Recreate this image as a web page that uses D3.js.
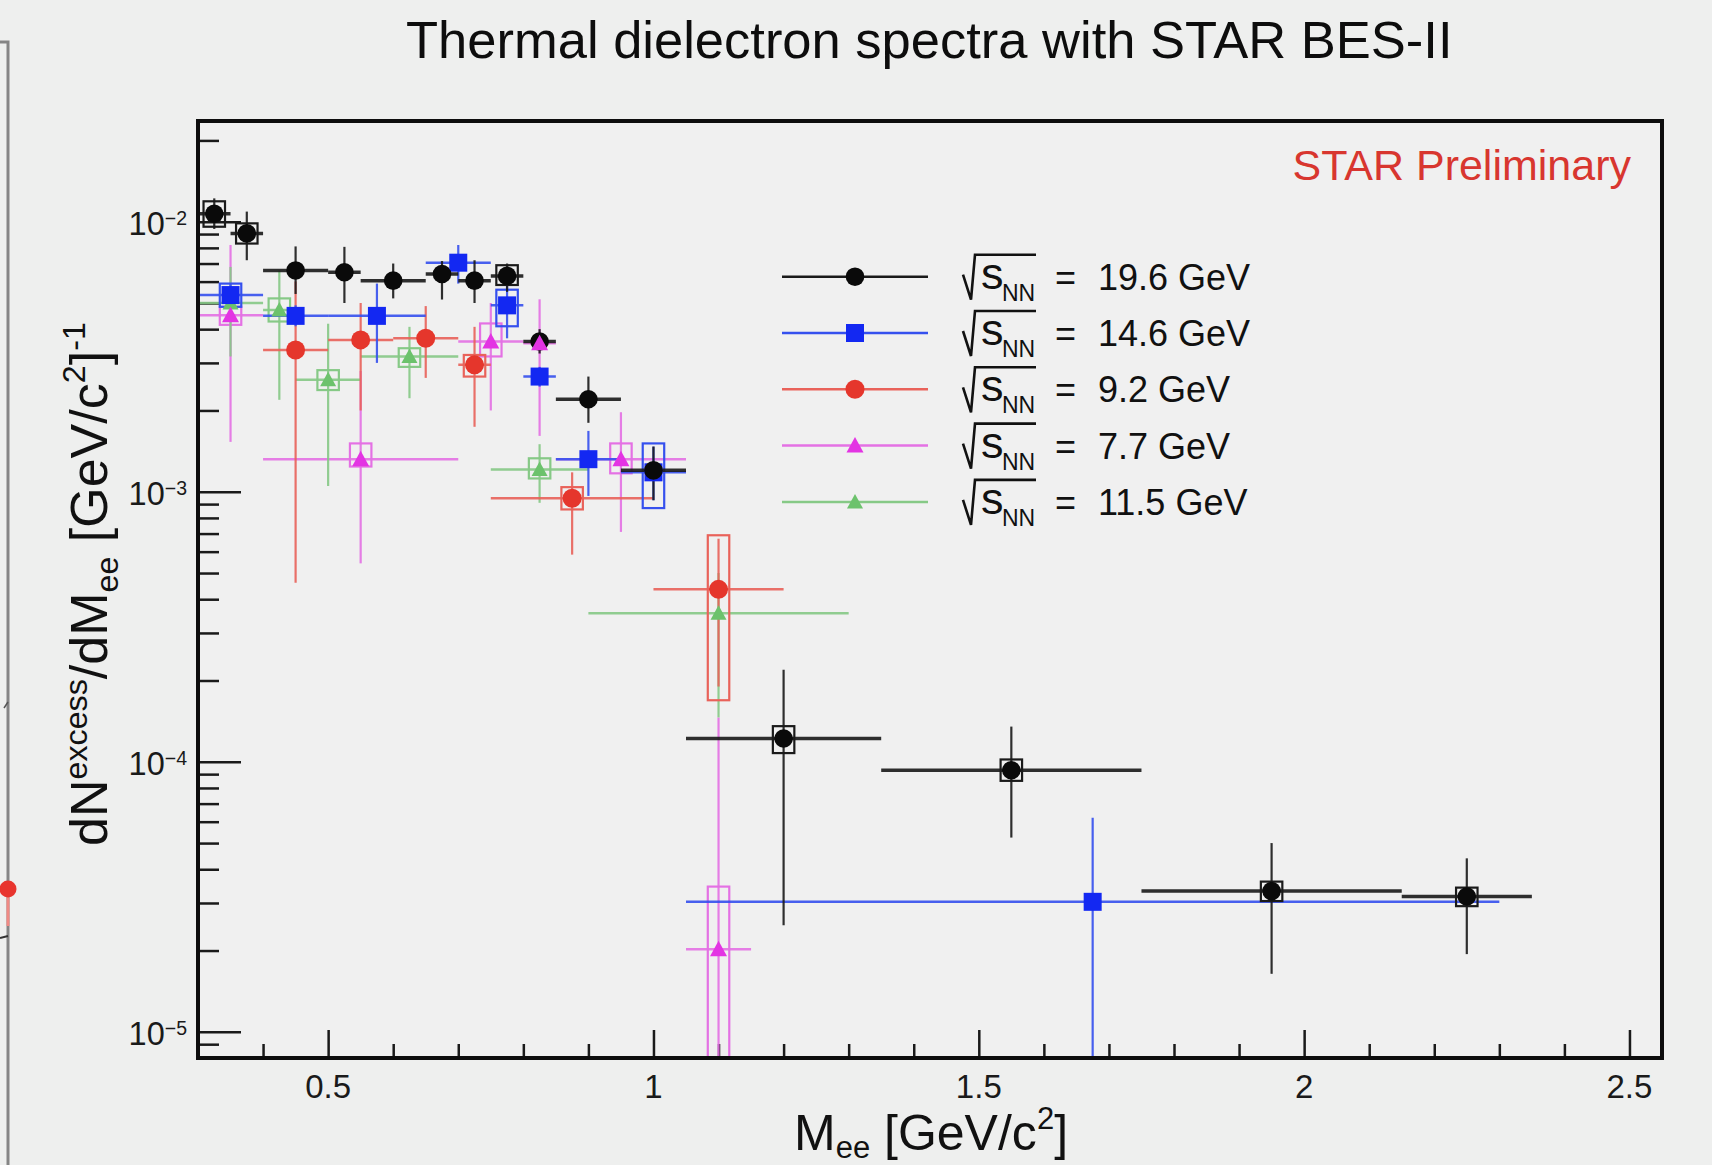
<!DOCTYPE html>
<html><head><meta charset="utf-8">
<script src="https://cdn.jsdelivr.net/npm/d3@7"></script>
<style>
html,body{margin:0;padding:0;background:#ededed;}
svg{display:block;font-family:"Liberation Sans",Arial,Helvetica,sans-serif;}
</style></head><body>
<svg id="chart" width="1712" height="1165"></svg>
<script>
// ---------------- DATA ----------------
const legendOrder = ["19.6", "14.6", "9.2", "7.7", "11.5"];
const xTickValues = [0.5, 1, 1.5, 2, 2.5];
const xTickLabels = ["0.5", "1", "1.5", "2", "2.5"];
const yTickValues = [1e-2, 1e-3, 1e-4, 1e-5];
const yTickExps = ["\u22122", "\u22123", "\u22124", "\u22125"];

// sqrt(sNN) = 19.6 GeV
const x196    = [0.325, 0.375, 0.45, 0.525, 0.6, 0.675, 0.725, 0.775, 0.825, 0.9, 1.0, 1.2, 1.55, 1.95, 2.25];
const xLo196  = [0.30, 0.35, 0.40, 0.50, 0.55, 0.65, 0.70, 0.75, 0.80, 0.85, 0.95, 1.05, 1.35, 1.75, 2.15];
const xHi196  = [0.35, 0.40, 0.50, 0.55, 0.65, 0.70, 0.75, 0.80, 0.85, 0.95, 1.05, 1.35, 1.75, 2.15, 2.35];
const y196    = [1.07e-2, 9.05e-3, 6.6e-3, 6.5e-3, 6.05e-3, 6.4e-3, 6.05e-3, 6.3e-3, 3.6e-3, 2.2e-3, 1.2e-3, 1.22e-4, 9.3e-5, 3.32e-5, 3.17e-5];
const yLo196  = [9.4e-3, 7.2e-3, 5.4e-3, 5.0e-3, 5.2e-3, 5.15e-3, 5.0e-3, 5.5e-3, 3.25e-3, 1.8e-3, 9.3e-4, 2.48e-5, 5.24e-5, 1.64e-5, 1.94e-5];
const yHi196  = [1.22e-2, 1.09e-2, 8.1e-3, 8.07e-3, 7.0e-3, 7.15e-3, 7.2e-3, 7.0e-3, 4.0e-3, 2.67e-3, 1.47e-3, 2.19e-4, 1.35e-4, 5.0e-5, 4.39e-5];
const sLo196  = [9.58e-3, 8.3e-3, null, null, null, null, null, 5.83e-3, null, null, null, 1.077e-4, 8.5e-5, 3.05e-5, 2.92e-5];
const sHi196  = [1.19e-2, 9.86e-3, null, null, null, null, null, 6.9e-3, null, null, null, 1.355e-4, 1.02e-4, 3.6e-5, 3.42e-5];

// sqrt(sNN) = 14.6 GeV
const x146    = [0.35, 0.45, 0.575, 0.7, 0.775, 0.825, 0.9, 1.0, 1.675];
const xLo146  = [0.30, 0.40, 0.50, 0.65, 0.75, 0.80, 0.85, 0.95, 1.05];
const xHi146  = [0.40, 0.50, 0.65, 0.75, 0.80, 0.85, 0.95, 1.05, 2.30];
const y146    = [5.35e-3, 4.48e-3, 4.48e-3, 7.05e-3, 4.9e-3, 2.67e-3, 1.32e-3, 1.18e-3, 3.03e-5];
const yLo146  = [4.9e-3, 4.1e-3, 3.0e-3, 5.9e-3, 3.7e-3, 2.45e-3, 9.65e-4, 9.3e-4, 1e-6];
const yHi146  = [5.9e-3, 4.9e-3, 5.9e-3, 8.2e-3, 6.2e-3, 2.9e-3, 1.68e-3, 1.47e-3, 6.2e-5];
const sLo146  = [4.84e-3, null, null, null, 4.1e-3, null, null, 8.7e-4, null];
const sHi146  = [5.9e-3, null, null, null, 5.6e-3, null, null, 1.51e-3, null];

// sqrt(sNN) = 9.2 GeV
const x92     = [0.45, 0.55, 0.65, 0.725, 0.875, 1.1];
const xLo92   = [0.40, 0.50, 0.60, 0.70, 0.75, 1.00];
const xHi92   = [0.50, 0.60, 0.70, 0.75, 1.00, 1.20];
const y92     = [3.35e-3, 3.65e-3, 3.7e-3, 2.95e-3, 9.46e-4, 4.35e-4];
const yLo92   = [4.6e-4, 2.0e-3, 2.64e-3, 1.74e-3, 5.85e-4, 1.9e-4];
const yHi92   = [6.0e-3, 5.0e-3, 4.87e-3, 4.08e-3, 1.18e-3, 6.7e-4];
const sLo92   = [null, null, null, 2.67e-3, 8.6e-4, 1.69e-4];
const sHi92   = [null, null, null, 3.21e-3, 1.04e-3, 6.9e-4];

// sqrt(sNN) = 7.7 GeV
const x77     = [0.35, 0.55, 0.75, 0.825, 0.95, 1.1];
const xLo77   = [0.30, 0.40, 0.70, 0.80, 0.85, 1.05];
const xHi77   = [0.40, 0.70, 0.80, 0.85, 1.05, 1.15];
const y77     = [4.5e-3, 1.32e-3, 3.6e-3, 3.55e-3, 1.32e-3, 2.02e-5];
const yLo77   = [1.53e-3, 5.43e-4, 2.0e-3, 1.61e-3, 7.1e-4, 1e-6];
const yHi77   = [8.2e-3, 2.8e-3, 5.0e-3, 5.16e-3, 1.97e-3, 1.46e-4];
const sLo77   = [4.15e-3, 1.24e-3, 3.17e-3, null, 1.17e-3, 1e-6];
const sHi77   = [4.84e-3, 1.51e-3, 4.2e-3, null, 1.51e-3, 3.45e-5];

// sqrt(sNN) = 11.5 GeV
const x115    = [0.35, 0.425, 0.5, 0.625, 0.825, 1.1];
const xLo115  = [0.30, 0.40, 0.45, 0.55, 0.75, 0.90];
const xHi115  = [0.40, 0.45, 0.55, 0.70, 0.90, 1.30];
const y115    = [5.0e-3, 4.71e-3, 2.6e-3, 3.17e-3, 1.21e-3, 3.55e-4];
const yLo115  = [3.17e-3, 2.19e-3, 1.05e-3, 2.22e-3, 9.1e-4, 1.46e-4];
const yHi115  = [6.8e-3, 6.6e-3, 4.19e-3, 4.08e-3, 1.5e-3, 5.0e-4];
const sLo115  = [null, 4.27e-3, 2.38e-3, 2.9e-3, 1.12e-3, null];
const sHi115  = [null, 5.2e-3, 2.82e-3, 3.4e-3, 1.33e-3, null];

// ---------------- STYLE / SERIES ----------------
const series = {
  "19.6": {x:x196, xlo:xLo196, xhi:xHi196, y:y196, ylo:yLo196, yhi:yHi196, slo:sLo196, shi:sHi196,
           color:"#0a0a0a", line:"#1a1a1a", marker:"circle", r:9.3, hw:3.5},
  "14.6": {x:x146, xlo:xLo146, xhi:xHi146, y:y146, ylo:yLo146, yhi:yHi146, slo:sLo146, shi:sHi146,
           color:"#1328f2", line:"#3550ee", marker:"square", r:9, hw:2.5},
  "9.2":  {x:x92, xlo:xLo92, xhi:xHi92, y:y92, ylo:yLo92, yhi:yHi92, slo:sLo92, shi:sHi92,
           color:"#e5362c", line:"#e9625a", marker:"circle", r:9.5, hw:2.5},
  "7.7":  {x:x77, xlo:xLo77, xhi:xHi77, y:y77, ylo:yLo77, yhi:yHi77, slo:sLo77, shi:sHi77,
           color:"#e334e3", line:"#e471e4", marker:"triangle", r:8.5, hw:2.5},
  "11.5": {x:x115, xlo:xLo115, xhi:xHi115, y:y115, ylo:yLo115, yhi:yHi115, slo:sLo115, shi:sHi115,
           color:"#6cc26c", line:"#86c986", marker:"triangle", r:8, hw:2.5}
};
const barOrder = ["7.7", "11.5", "9.2", "14.6", "19.6"];
const markerOrder = ["11.5", "9.2", "14.6", "19.6", "7.7"];

// ---------------- SETUP ----------------
const W = 1712, H = 1165;
const M = {left:198, right:1662, top:121, bottom:1058};
const svg = d3.select("#chart");
const x = d3.scaleLinear().domain([0.3, 2.55]).range([M.left, M.right]);
const y = d3.scaleLog().domain([8.0e-6, 0.0236]).range([M.bottom, M.top]);

svg.append("rect").attr("width", W).attr("height", H).attr("fill", "#eeefee");
svg.append("rect").attr("x", M.left).attr("y", M.top).attr("width", M.right - M.left)
   .attr("height", M.bottom - M.top).attr("fill", "#f0f0f0");

// left-edge remnant of neighbouring slide
const edge = svg.append("g");
edge.append("path").attr("d", "M0,42 L8,42 L8,1165").attr("fill", "none").attr("stroke", "#858585").attr("stroke-width", 3);
edge.append("line").attr("x1", 8).attr("x2", 8).attr("y1", 896).attr("y2", 926).attr("stroke", "#f08a84").attr("stroke-width", 3);
edge.append("circle").attr("cx", 8).attr("cy", 889).attr("r", 8.5).attr("fill", "#e8352e");
edge.append("line").attr("x1", 0).attr("x2", 8).attr("y1", 938).attr("y2", 936).attr("stroke", "#333").attr("stroke-width", 2);
edge.append("line").attr("x1", 4).attr("x2", 8).attr("y1", 708).attr("y2", 702).attr("stroke", "#555").attr("stroke-width", 1.5);

// rich text helper (superscripts / subscripts)
function rich(sel, segs, fs) {
  let cur = 0;
  segs.forEach(sg => {
    const target = sg.s === "sup" ? (sg.sh !== undefined ? sg.sh : -0.42 * fs) :
                   sg.s === "sub" ? (sg.sh !== undefined ? sg.sh : 0.24 * fs) : 0;
    sel.append("tspan").text(sg.t).attr("dy", target - cur)
       .style("font-size", (sg.s ? (sg.f || 0.62) * fs : fs) + "px");
    cur = target;
  });
}

// ---------------- TITLE ----------------
svg.append("text").attr("x", 406).attr("y", 58).style("font-size", "52.5px").attr("fill", "#0d0d0d")
   .text("Thermal dielectron spectra with STAR BES-II");

// ---------------- AXES ----------------
const yMinor = [];
for (let e = -6; e <= -2; e++) for (let k = 2; k <= 9; k++) {
  const v = k * Math.pow(10, e);
  if (v >= 8.0e-6 && v <= 0.0236) yMinor.push(v);
}
const xMinor = d3.range(3, 26).map(i => i / 10).filter(v => !xTickValues.some(t => Math.abs(t - v) < 1e-9));

const axG = svg.append("g").attr("stroke", "#111");
const yMinAx = d3.axisLeft(y).tickValues(yMinor).tickSize(-21).tickFormat("");
const yMajAx = d3.axisLeft(y).tickValues(yTickValues).tickSize(-43).tickFormat("");
const xMinAx = d3.axisBottom(x).tickValues(xMinor).tickSize(-14).tickFormat("");
const xMajAx = d3.axisBottom(x).tickValues(xTickValues).tickSize(-28).tickFormat("");
[[yMinAx, `translate(${M.left},0)`], [yMajAx, `translate(${M.left},0)`],
 [xMinAx, `translate(0,${M.bottom})`], [xMajAx, `translate(0,${M.bottom})`]].forEach(([ax, tr]) => {
  const g = axG.append("g").attr("transform", tr).call(ax);
  g.select(".domain").remove();
  g.selectAll(".tick line").attr("stroke", "#1a1a1a").attr("stroke-width", 2.5);
});

// y tick labels
yTickValues.forEach((v, i) => {
  const t = svg.append("text").attr("x", 187).attr("y", y(v) + 13).attr("text-anchor", "end")
     .attr("fill", "#1a1a1a");
  rich(t, [{t:"10"}, {t:yTickExps[i], s:"sup", f:0.6, sh:-10}], 32.5);
});
// x tick labels
xTickValues.forEach((v, i) => {
  svg.append("text").attr("x", x(v)).attr("y", 1098).attr("text-anchor", "middle")
     .style("font-size", "33px").attr("fill", "#1a1a1a").text(xTickLabels[i]);
});

// axis titles
const xt = svg.append("text").attr("x", 794).attr("y", 1150).attr("fill", "#111");
rich(xt, [{t:"M"}, {t:"ee", s:"sub", sh:8}, {t:" [GeV/c"}, {t:"2", s:"sup", sh:-21}, {t:"]"}], 50);

const yt = svg.append("text").attr("transform", "translate(107,846) rotate(-90)").attr("fill", "#111");
rich(yt, [{t:"dN"}, {t:"excess", s:"sup", sh:-20}, {t:"/dM"}, {t:"ee", s:"sub", sh:11},
          {t:" [GeV/c"}, {t:"2", s:"sup", sh:-22}, {t:"]"}, {t:"-1", s:"sup", sh:-22}], 52);

// ---------------- DATA MARKS ----------------
const plot = svg.append("g");
svg.append("clipPath").attr("id", "clip").append("rect")
   .attr("x", M.left).attr("y", M.top).attr("width", M.right - M.left).attr("height", M.bottom - M.top);
plot.attr("clip-path", "url(#clip)");

function markerPath(type, r) {
  if (type === "square") return `M${-r},${-r}H${r}V${r}H${-r}Z`;
  if (type === "triangle") return `M0,${-r}L${r},${r * 0.82}L${-r},${r * 0.82}Z`;
  return null;
}
function drawMarker(g, s, cx, cy) {
  if (s.marker === "circle") g.append("circle").attr("cx", cx).attr("cy", cy).attr("r", s.r).attr("fill", s.color);
  else g.append("path").attr("d", markerPath(s.marker, s.r)).attr("transform", `translate(${cx},${cy})`).attr("fill", s.color);
}

const BOX = 0.0165;
barOrder.forEach(key => {
  const s = series[key];
  const g = plot.append("g");
  s.x.forEach((xv, i) => {
    if (s.slo[i] !== null) {
      g.append("rect").attr("x", x(xv - BOX)).attr("width", x(xv + BOX) - x(xv - BOX))
       .attr("y", y(s.shi[i])).attr("height", y(s.slo[i]) - y(s.shi[i]))
       .attr("fill", "none").attr("stroke", s.line).attr("stroke-width", 2.2);
    }
    g.append("line").attr("x1", x(s.xlo[i])).attr("x2", x(s.xhi[i])).attr("y1", y(s.y[i])).attr("y2", y(s.y[i]))
     .attr("stroke", s.line).attr("stroke-width", s.hw).attr("opacity", 0.9);
    g.append("line").attr("x1", x(xv)).attr("x2", x(xv)).attr("y1", y(s.yhi[i])).attr("y2", y(s.ylo[i]))
     .attr("stroke", s.line).attr("stroke-width", 2.2).attr("opacity", 0.9);
  });
});
markerOrder.forEach(key => {
  const s = series[key];
  const g = plot.append("g");
  s.x.forEach((xv, i) => drawMarker(g, s, x(xv), y(s.y[i])));
});

// ---------------- FRAME ----------------
svg.append("rect").attr("x", M.left).attr("y", M.top).attr("width", M.right - M.left)
   .attr("height", M.bottom - M.top).attr("fill", "none").attr("stroke", "#0d0d0d").attr("stroke-width", 4);

// STAR Preliminary
svg.append("text").attr("x", 1631).attr("y", 180).attr("text-anchor", "end")
   .style("font-size", "43px").attr("fill", "#d8362f").text("STAR Preliminary");

// ---------------- LEGEND ----------------
const lg = svg.append("g");
legendOrder.forEach((key, i) => {
  const s = series[key];
  const cy = 276.7 + i * 56.3;
  lg.append("line").attr("x1", 782).attr("x2", 928).attr("y1", cy).attr("y2", cy)
    .attr("stroke", s.line).attr("stroke-width", 2.5);
  drawMarker(lg, s, 855, cy);
  lg.append("path").attr("d", `M963,${cy - 2} L971,${cy + 23} L975,${cy - 22} L1036,${cy - 22}`)
    .attr("fill", "none").attr("stroke", "#111").attr("stroke-width", 2.6);
  lg.append("text").attr("x", 981).attr("y", cy + 12).style("font-size", "45px").attr("fill", "#111").text("s");
  lg.append("text").attr("x", 1002).attr("y", cy + 24).style("font-size", "23px").attr("fill", "#111").text("NN");
  lg.append("text").attr("x", 1055).attr("y", cy + 13).style("font-size", "36px").attr("fill", "#111").text("=");
  lg.append("text").attr("x", 1098).attr("y", cy + 13).style("font-size", "36px").attr("fill", "#111").text(key + " GeV");
});
</script></body></html>
